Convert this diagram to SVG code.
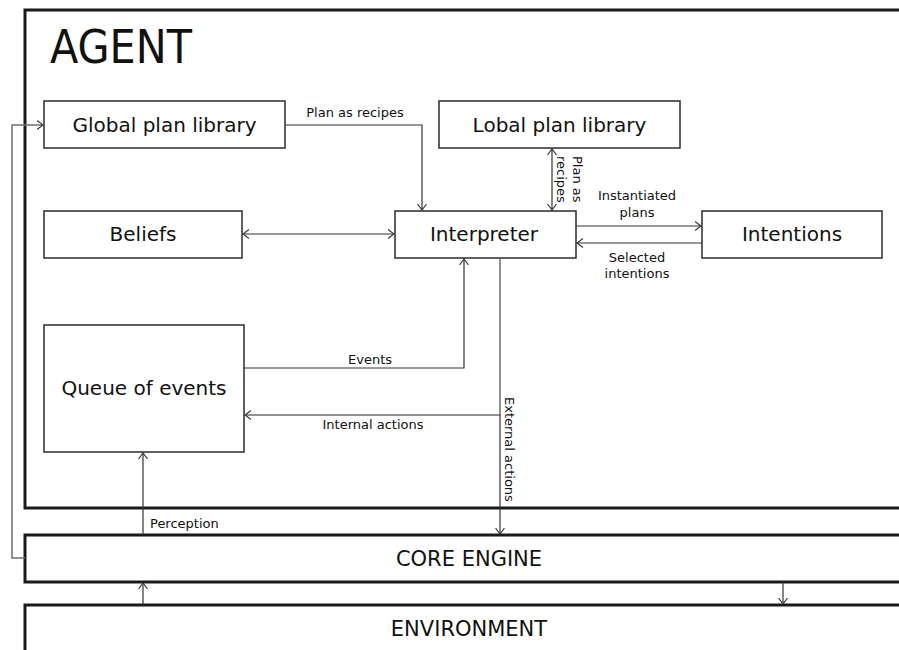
<svg xmlns="http://www.w3.org/2000/svg" width="899" height="650" viewBox="0 0 899 650">
  <style>
    .frame { fill: #ffffff; stroke: #1a1a1a; stroke-width: 3; }
    .box { fill: #ffffff; stroke: #2b2b2b; stroke-width: 1.5; }
    .wire { fill: none; stroke: #333333; stroke-width: 1.2; }
    .wire-gray { fill: none; stroke: #6f6f6f; stroke-width: 1.5; }
    text { font-family: "DejaVu Sans", "Liberation Sans", sans-serif; fill: #111111; }
    .title { font-family: "DejaVu Sans Condensed", "DejaVu Sans", sans-serif; font-size: 46px; }
    .node { font-size: 20px; text-anchor: middle; }
    .layer { font-size: 21px; text-anchor: middle; }
    .lbl { font-size: 13px; }
    .lblc { font-size: 13px; text-anchor: middle; }
  </style>
  <defs>
    <marker id="arrow" markerUnits="userSpaceOnUse" markerWidth="10" markerHeight="12" refX="6" refY="5" orient="auto-start-reverse" viewBox="0 0 10 10">
      <path d="M0,0.5 L6,5 L0,9.5" fill="none" stroke="#333333" stroke-width="1.1"/>
    </marker>
  </defs>

  <rect width="899" height="650" fill="#ffffff"/>

  <!-- layered frames -->
  <g id="agent">
    <rect class="frame" x="25" y="10" width="900" height="498"/>
    <text class="title" x="50" y="63">AGENT</text>
  </g>
  <g id="core-engine">
    <rect class="frame" x="25" y="535" width="900" height="47"/>
    <text class="layer" x="469" y="566">CORE ENGINE</text>
  </g>
  <g id="environment">
    <rect class="frame" x="25" y="605" width="900" height="80"/>
    <text class="layer" x="469" y="636">ENVIRONMENT</text>
  </g>

  <!-- components inside the agent -->
  <g id="global-plan-library">
    <rect class="box" x="44" y="101" width="241" height="47"/>
    <text class="node" x="164.5" y="132">Global plan library</text>
  </g>
  <g id="lobal-plan-library">
    <rect class="box" x="439" y="101" width="241" height="47"/>
    <text class="node" x="559.5" y="132">Lobal plan library</text>
  </g>
  <g id="beliefs">
    <rect class="box" x="44" y="211" width="198" height="47"/>
    <text class="node" x="143" y="241">Beliefs</text>
  </g>
  <g id="interpreter">
    <rect class="box" x="395" y="211" width="181" height="47"/>
    <text class="node" x="484" y="241">Interpreter</text>
  </g>
  <g id="intentions">
    <rect class="box" x="702" y="211" width="180" height="47"/>
    <text class="node" x="792" y="241">Intentions</text>
  </g>
  <g id="queue-of-events">
    <rect class="box" x="44" y="325" width="200" height="127"/>
    <text class="node" x="144" y="395">Queue of events</text>
  </g>

  <!-- connectors -->
  <g id="connectors">
    <polyline class="wire" points="285,125 422,125 422,210" marker-end="url(#arrow)"/>
    <line class="wire" x1="552" y1="149" x2="552" y2="210" marker-start="url(#arrow)" marker-end="url(#arrow)"/>
    <line class="wire" x1="243" y1="234" x2="394" y2="234" marker-start="url(#arrow)" marker-end="url(#arrow)"/>
    <line class="wire" x1="576" y1="226" x2="701" y2="226" marker-end="url(#arrow)"/>
    <line class="wire" x1="702" y1="243" x2="577" y2="243" marker-end="url(#arrow)"/>
    <polyline class="wire" points="244,368 464,368 464,259" marker-end="url(#arrow)"/>
    <polyline class="wire-gray" points="500,258 500,415 245,415" marker-end="url(#arrow)"/>
    <line class="wire" x1="500" y1="415" x2="500" y2="534" marker-end="url(#arrow)"/>
    <line class="wire" x1="143" y1="535" x2="143" y2="453" marker-end="url(#arrow)"/>
    <line class="wire" x1="143" y1="605" x2="143" y2="583" marker-end="url(#arrow)"/>
    <line class="wire" x1="783" y1="582" x2="783" y2="604" marker-end="url(#arrow)"/>
    <polyline class="wire-gray" points="25,558 12,558 12,125 43,125" marker-end="url(#arrow)"/>

    <!-- connector labels -->
    <text class="lblc" x="355" y="117">Plan as recipes</text>
    <text class="lbl" transform="translate(573,156) rotate(90)">Plan as</text>
    <text class="lbl" transform="translate(557,156) rotate(90)">recipes</text>
    <text class="lblc" x="637" y="200">Instantiated</text>
    <text class="lblc" x="637" y="217">plans</text>
    <text class="lblc" x="637" y="262">Selected</text>
    <text class="lblc" x="637" y="278">intentions</text>
    <text class="lblc" x="370" y="364">Events</text>
    <text class="lblc" x="373" y="429">Internal actions</text>
    <text class="lbl" transform="translate(505,397) rotate(90)">External actions</text>
    <text class="lbl" x="150" y="528">Perception</text>
  </g>
</svg>
